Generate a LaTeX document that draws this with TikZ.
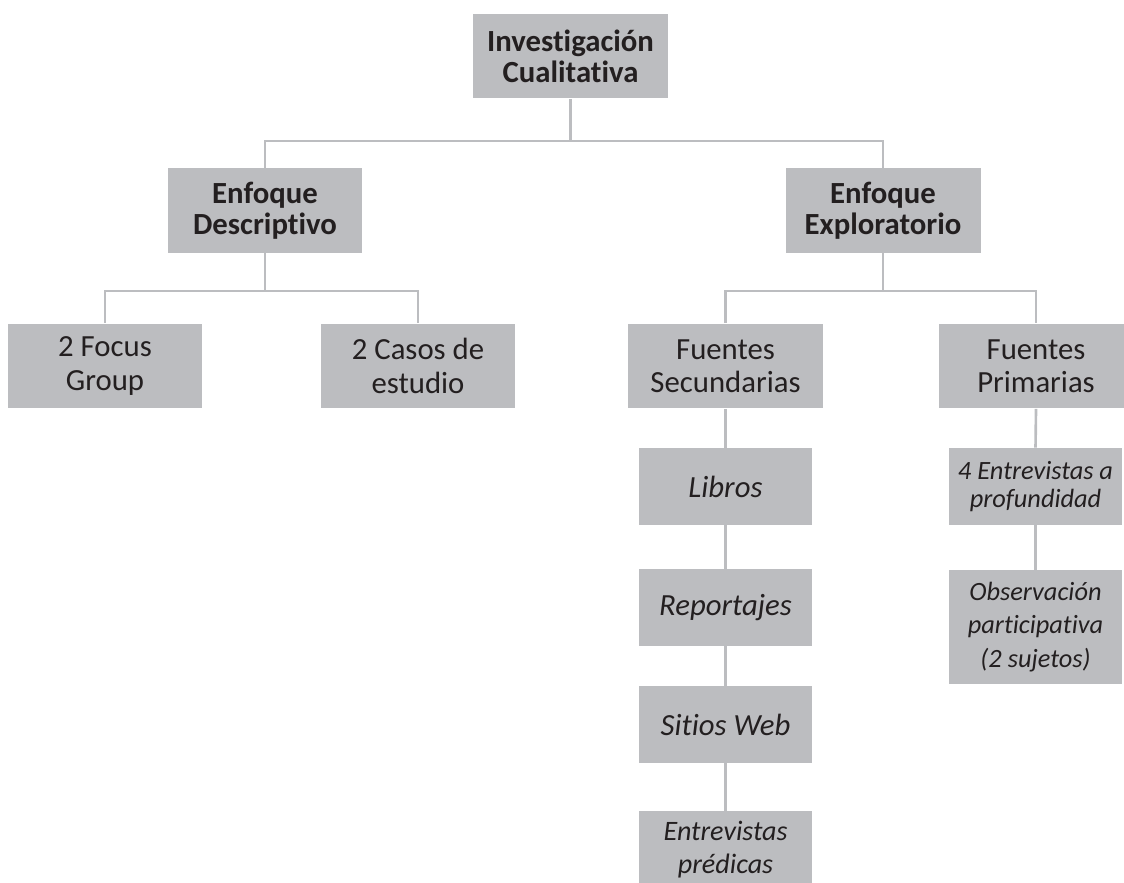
\documentclass[tikz,border=0pt]{standalone}
\usepackage{fontspec}
\setmainfont{Carlito}[Ligatures = NoCommon]
\usepackage{tikz}
\usetikzlibrary{calc}

\definecolor{boxgray}{RGB}{188,189,192}
\definecolor{ink}{RGB}{35,31,32}

\begin{document}
\begin{tikzpicture}[x = 0.02cm, y = -0.02cm,
                    box/.style = {fill = boxgray, text = ink, align = center, inner sep = 0pt,
                                  minimum width = 3.9cm, minimum height = 1.7cm},
                    subbox/.style = {box, minimum width = 3.46cm, minimum height = 1.54cm},
                    title/.style = {font = {\fontsize{17.5}{17.5}\selectfont\bfseries}},
                    plain/.style = {font = {\fontsize{17.5}{19}\selectfont}},
                    link/.style = {draw = boxgray, line width = 1.5pt}]
                    \useasboundingbox (0, 0) rectangle (1124, 882);

                    % niveles superiores
                    \node[box, title] (inv) at (570.5, 56) {Investigación\\Cualitativa};
                    \node[box, title] (desc) at (265, 210.5) {Enfoque\\Descriptivo};
                    \node[box, title] (expl) at (883, 210.5) {Enfoque\\Exploratorio};

                    \node[box, plain] (focus) at (105, 366) {2 Focus\\Group};
                    \node[box, plain] (casos) at (418, 366) {2 Casos de\\estudio};
                    \node[box, plain] (sec) at (725.5, 366) {Fuentes\\Secundarias};
                    \node[box, plain] (prim) at (1036, 366) {Fuentes\\Primarias};

                    % fuentes secundarias
                    \node[subbox, font = {\fontsize{17.5}{19}\selectfont\itshape}] (libros) at (725.5, 486.5) {Libros};
                    \node[subbox, font = {\fontsize{17.5}{19}\selectfont\itshape}] (report) at (725.5, 607.5) {Reportajes};
                    \node[subbox, font = {\fontsize{17.5}{19}\selectfont\itshape}] (sitios) at (725.5, 724.5) {Sitios Web};
                    \node[subbox, font = {\fontsize{16}{19}\selectfont\itshape}] (predic) at (725.5, 849.5) {Entrevistas\\prédicas};

                    % fuentes primarias
                    \node[subbox, font = {\fontsize{15}{15.5}\selectfont\itshape}] (entprof) at (1035.5, 486.5) {4 Entrevistas a\\profundidad};
                    \node[subbox, minimum height = 2.28cm, font = {\fontsize{15}{19}\selectfont\itshape}] (obs) at (1035.5, 627) {Observación\\participativa\\(2 sujetos)};

                    \coordinate (j_inv) at (570.5, 141);
                    \coordinate (j_desc) at (265, 291);
                    \coordinate (j_expl) at (883, 291);

                    \draw[link](inv.south) -- (j_inv);
                    \draw[link](desc.north) |- (j_inv) -| (expl.north);

                    \draw[link](desc.south) -- (j_desc);
                    \draw[link](focus.north) |- (j_desc) -| (casos.north);

                    \draw[link](expl.south) -- (j_expl);
                    \draw[link](sec.north) |- (j_expl) -| (prim.north);

                    \draw[link](sec.south) -- (libros.north);
                    \draw[link](libros.south) -- (report.north);
                    \draw[link](report.south) -- (sitios.north);
                    \draw[link](sitios.south) -- (predic.north);

                    \draw[link](prim.south) -- (entprof.north);
                    \draw[link](entprof.south) -- (obs.north);
                \end{tikzpicture}
\end{document}
